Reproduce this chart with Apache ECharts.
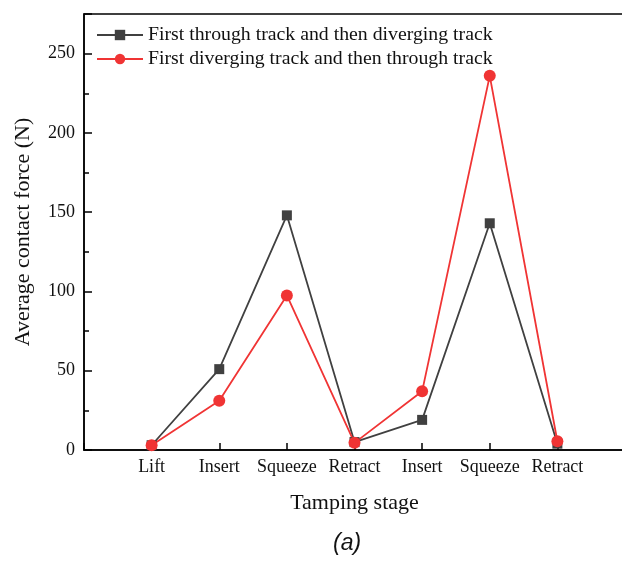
<!DOCTYPE html>
<html>
<head>
<meta charset="utf-8">
<script src="https://cdn.jsdelivr.net/npm/echarts@6/dist/echarts.min.js"></script>
<style>
  html, body { margin: 0; padding: 0; background: #fff; }
  #chart { width: 622px; height: 562px; }
</style>
</head>
<body>
<div id="chart"></div>
<script>
// tamping stages along the x axis
var stages = ['Lift', 'Insert', 'Squeeze', 'Retract', 'Insert', 'Squeeze', 'Retract'];
// average contact force (N)
var throughFirst = [3, 51, 148, 5, 19, 143, 4];
var divergingFirst = [3, 31, 97.5, 4.5, 37, 236, 5.5];
var yTicks = [0, 50, 100, 150, 200, 250];

var serif = 'Liberation Serif';

function toPoints(list) {
  return list.map(function (v, i) { return [i + 1, v]; });
}

var chart = echarts.init(document.getElementById('chart'));
var option = {
  animation: false,
  textStyle: { fontFamily: serif },
  grid: {
    left: 84, top: 14, right: -3, bottom: 112,
    outerBoundsMode: 'none',
    show: true, borderColor: '#000', borderWidth: 1.5, backgroundColor: 'transparent'
  },
  legend: {
    orient: 'vertical',
    left: 91, top: 20,
    itemWidth: 46, itemHeight: 13, itemGap: 4, itemTextGap: 5,
    textStyle: { fontFamily: serif, fontSize: 19.8, color: '#111' },
    data: ['First through track and then diverging track', 'First diverging track and then through track']
  },
  xAxis: {
    type: 'value',
    min: 0, max: 8, interval: 1,
    name: 'Tamping stage',
    nameLocation: 'middle',
    nameGap: 42,
    nameTextStyle: { fontFamily: serif, fontSize: 22, color: '#111' },
    splitLine: { show: false },
    axisLine: { lineStyle: { color: '#000', width: 1.5 } },
    axisTick: { inside: true, length: 7, lineStyle: { color: '#000', width: 1.5 } },
    axisLabel: {
      margin: 8, fontFamily: serif, fontSize: 18, color: '#111',
      formatter: function (v) { return stages[v - 1] || ''; }
    }
  },
  yAxis: [{
    type: 'value',
    min: 0, max: 275, interval: 50,
    name: 'Average contact force (N)',
    nameLocation: 'middle',
    nameGap: 50,
    nameTextStyle: { fontFamily: serif, fontSize: 22, color: '#111' },
    splitLine: { show: false },
    axisLine: { show: true, lineStyle: { color: '#000', width: 1.5 } },
    axisTick: { inside: true, length: 8, lineStyle: { color: '#000', width: 1.5 } },
    axisLabel: {
      margin: 9, fontFamily: serif, fontSize: 18, color: '#111',
      formatter: function (v) { return yTicks.indexOf(v) >= 0 ? String(v) : ''; }
    }
  }, {
    type: 'value',
    position: 'left',
    min: 0, max: 275, interval: 25,
    splitLine: { show: false },
    axisLine: { show: false },
    axisTick: { inside: true, length: 5, lineStyle: { color: '#000', width: 1.5 } },
    axisLabel: { show: false }
  }],
  graphic: [{
    type: 'text',
    left: 333, top: 532,
    style: { text: '(a)', font: 'italic 23px "Liberation Sans"', fill: '#111' }
  }],
  series: [{
    name: 'First through track and then diverging track',
    type: 'line',
    data: toPoints(throughFirst),
    symbol: 'rect',
    symbolSize: 10,
    lineStyle: { color: '#404040', width: 1.8 },
    itemStyle: { color: '#404040' }
  }, {
    name: 'First diverging track and then through track',
    type: 'line',
    data: toPoints(divergingFirst),
    symbol: 'circle',
    symbolSize: 12,
    lineStyle: { color: '#f03434', width: 1.8 },
    itemStyle: { color: '#f03434' }
  }]
};
chart.setOption(option);
</script>
</body>
</html>
